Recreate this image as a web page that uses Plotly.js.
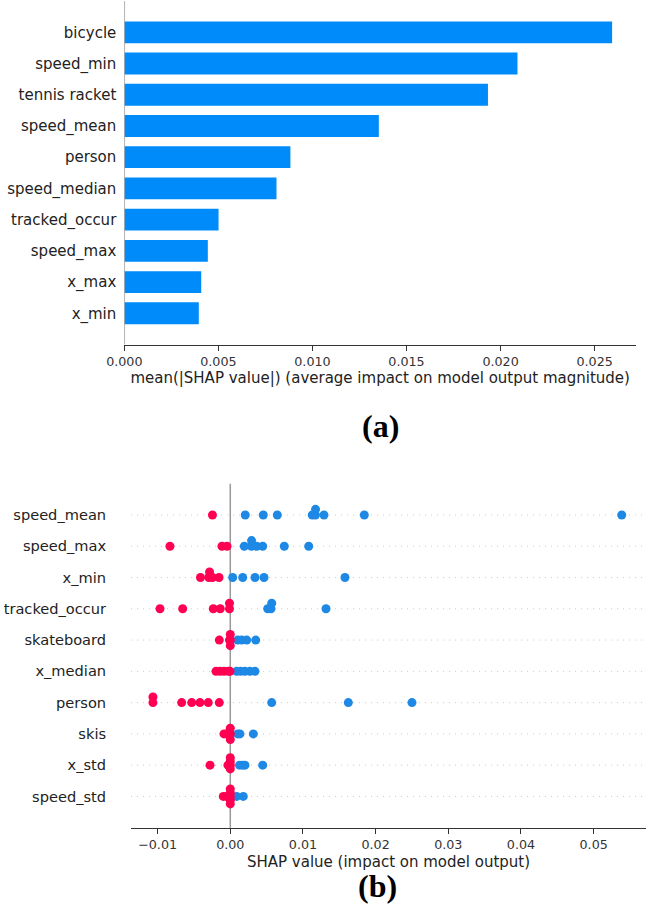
<!DOCTYPE html>
<html>
<head>
<meta charset="utf-8">
<script src="https://cdn.plot.ly/plotly-3.0.1.min.js"></script>
<style>
  html, body { margin: 0; padding: 0; background: #fff; }
  #chart { width: 646px; height: 913px; }
</style>
</head>
<body>
<div id="chart"></div>
<script>
// ---------- Panel (a): mean |SHAP| bar chart (top to bottom) ----------
const barFeatures = ['bicycle', 'speed_min', 'tennis racket', 'speed_mean', 'person',
                     'speed_median', 'tracked_occur', 'speed_max', 'x_max', 'x_min'];
const barValues = [0.02593, 0.0209, 0.01933, 0.01353, 0.00883,
                   0.00809, 0.00501, 0.00444, 0.00409, 0.00396];
const barTicks = [0, 0.005, 0.010, 0.015, 0.020, 0.025];

// ---------- Panel (b): beeswarm (top to bottom) ----------
const beeFeatures = ['speed_mean', 'speed_max', 'x_min', 'tracked_occur', 'skateboard',
                     'x_median', 'person', 'skis', 'x_std', 'speed_std'];
// SHAP values of samples with high feature value (red)
const beeHigh = [
  [-0.00245],
  [-0.0083, -0.00114, -0.00045],
  [-0.0041, -0.00295, -0.00285, -0.00245, -0.00155],
  [-0.00967, -0.00655, -0.00234, -0.00138, -0.00011, -0.00011],
  [-0.00151, -0.0001, -0.00005, 0, 0, 0],
  [-0.00197, -0.00142, -0.00087, -0.00028, -0.00004],
  [-0.01064, -0.01064, -0.00669, -0.00531, -0.00417, -0.00303, -0.00151],
  [-0.00087, -0.00052, -0.00032, -0.00018, 0, 0, 0],
  [-0.00279, -0.00032, 0, 0, 0, 0],
  [-0.00096, -0.00052, -0.00025, 0, 0, 0, 0, 0]
];
// SHAP values of samples with low feature value (blue)
const beeLow = [
  [0.00206, 0.00454, 0.00647, 0.01128, 0.01172, 0.01173, 0.01289, 0.01844, 0.05386],
  [0.00193, 0.00292, 0.00293, 0.00363, 0.00446, 0.00743, 0.01079],
  [0.00033, 0.00171, 0.0034, 0.00464, 0.01578],
  [0.00515, 0.0056, 0.0057, 0.01317],
  [0.00102, 0.00157, 0.00226, 0.0035],
  [0.00088, 0.00143, 0.00202, 0.00271, 0.0034],
  [0.0057, 0.01624, 0.025],
  [0.00102, 0.00133, 0.00317],
  [0.00127, 0.00168, 0.00202, 0.00446],
  [0.00088, 0.00179]
];
const beeTicks = [-0.01, 0, 0.01, 0.02, 0.03, 0.04, 0.05];

const RED = '#ff0052', BLUE = '#1e88e5', BAR = '#008bfb';
const W = 646, H = 913;
const FONT = 'DejaVu Sans, sans-serif';

// SHAP-style beeswarm vertical layout (binning + alternating layers)
function beeswarm(vals) {
  const N = vals.length, nbins = 100;
  const mn = Math.min(...vals), mx = Math.max(...vals);
  const quant = vals.map(v => Math.round(nbins * (v - mn) / (mx - mn + 1e-8)));
  const inds = [...Array(N).keys()].sort((a, b) => (quant[a] - quant[b]) || (a - b));
  const ys = new Array(N).fill(0);
  let layer = 0, last = -1;
  for (const i of inds) {
    if (quant[i] !== last) layer = 0;
    ys[i] = Math.ceil(layer / 2) * ((layer % 2) * 2 - 1);
    layer++; last = quant[i];
  }
  const m = Math.max(...ys.map(y => y + 1));
  return ys.map(y => y * 0.9 * (0.4 / m));
}

const nA = barFeatures.length, nB = beeFeatures.length;
const posA = barFeatures.map((_, i) => nA - 1 - i);
const posB = beeFeatures.map((_, i) => nB - 1 - i);

const traces = [];
traces.push({
  type: 'bar', orientation: 'h', x: barValues, y: posA, width: 0.7,
  marker: { color: BAR, line: { width: 0 } },
  xaxis: 'x', yaxis: 'y', hoverinfo: 'x', showlegend: false
});

const hx = [], hy = [], lx = [], ly = [];
beeFeatures.forEach((f, r) => {
  const vals = beeHigh[r].concat(beeLow[r]);
  const off = beeswarm(vals);
  vals.forEach((v, k) => {
    if (k < beeHigh[r].length) { hx.push(v); hy.push(posB[r] + off[k]); }
    else { lx.push(v); ly.push(posB[r] + off[k]); }
  });
});
traces.push({
  type: 'scatter', mode: 'markers', x: lx, y: ly, xaxis: 'x2', yaxis: 'y2',
  marker: { color: BLUE, size: 9, line: { width: 0 } }, showlegend: false, hoverinfo: 'x'
});
traces.push({
  type: 'scatter', mode: 'markers', x: hx, y: hy, xaxis: 'x2', yaxis: 'y2',
  marker: { color: RED, size: 9, line: { width: 0 } }, showlegend: false, hoverinfo: 'x'
});

const shapes = [];
// zero line, panel (a)
shapes.push({ type: 'line', xref: 'x', yref: 'y domain', x0: 0, x1: 0, y0: 0, y1: 1,
  line: { color: '#999999', width: 1.5 }, layer: 'above' });
// row guide lines, panel (b)
posB.forEach(p => shapes.push({ type: 'line', xref: 'x2 domain', yref: 'y2', x0: 0, x1: 1, y0: p, y1: p,
  line: { color: '#cccccc', width: 1, dash: '1px,5px' }, layer: 'below' }));
// zero line, panel (b)
shapes.push({ type: 'line', xref: 'x2', yref: 'y2 domain', x0: 0, x1: 0, y0: 0, y1: 1,
  line: { color: '#999999', width: 1.5 }, layer: 'below' });

const axBase = {
  showgrid: false, zeroline: false, automargin: false, fixedrange: true
};

const layout = {
  width: W, height: H,
  margin: { l: 0, r: 0, t: 0, b: 0, pad: 0 },
  paper_bgcolor: '#ffffff', plot_bgcolor: 'rgba(0,0,0,0)',
  font: { family: FONT, color: '#333333' },
  showlegend: false,
  xaxis: Object.assign({}, axBase, {
    domain: [124.3 / W, 636 / W], range: [0, 0.0272], anchor: 'y',
    showline: true, linecolor: '#333333', linewidth: 1,
    ticks: 'outside', ticklen: 5, tickwidth: 1, tickcolor: '#333333',
    tickvals: barTicks, tickformat: '.3f',
    tickfont: { family: FONT, size: 12.7, color: '#333333' },
    title: { text: 'mean(|SHAP value|) (average impact on model output magnitude)',
             font: { family: FONT, size: 15, color: '#222222' }, standoff: 4 }
  }),
  yaxis: Object.assign({}, axBase, {
    domain: [1 - 344.5 / H, 1 - 1.1 / H], range: [-1, 10], anchor: 'x',
    showline: false, ticks: 'outside', ticklen: 4, tickcolor: 'rgba(0,0,0,0)',
    tickvals: posA, ticktext: barFeatures,
    tickfont: { family: FONT, size: 15, color: '#222222' }
  }),
  xaxis2: Object.assign({}, axBase, {
    domain: [131 / W, 1], range: [-0.01366, 0.0572], anchor: 'y2',
    showline: true, linecolor: '#333333', linewidth: 1,
    ticks: 'outside', ticklen: 5, tickwidth: 1, tickcolor: '#333333',
    tickvals: beeTicks, tickformat: '.2f',
    tickfont: { family: FONT, size: 12.7, color: '#333333' },
    title: { text: 'SHAP value (impact on model output)',
             font: { family: FONT, size: 15, color: '#222222' }, standoff: 5 }
  }),
  yaxis2: Object.assign({}, axBase, {
    domain: [1 - 827.7 / H, 1 - 483.7 / H], range: [-1, 10], anchor: 'x2',
    showline: false, ticks: 'outside', ticklen: 21, tickcolor: 'rgba(0,0,0,0)',
    tickvals: posB, ticktext: beeFeatures,
    tickfont: { family: FONT, size: 14.6, color: '#222222' }
  }),
  shapes: shapes,
  annotations: [
    { text: '<b>(a)</b>', xref: 'paper', yref: 'paper', x: 380 / W, y: 1 - 426 / H,
      xanchor: 'center', yanchor: 'middle', showarrow: false,
      font: { family: 'Liberation Serif, Times New Roman, serif', size: 32, color: '#000000' } },
    { text: '<b>(b)</b>', xref: 'paper', yref: 'paper', x: 377 / W, y: 1 - 886 / H,
      xanchor: 'center', yanchor: 'middle', showarrow: false,
      font: { family: 'Liberation Serif, Times New Roman, serif', size: 32, color: '#000000' } }
  ]
};

Plotly.newPlot('chart', traces, layout, { staticPlot: true, displayModeBar: false });
</script>
</body>
</html>
